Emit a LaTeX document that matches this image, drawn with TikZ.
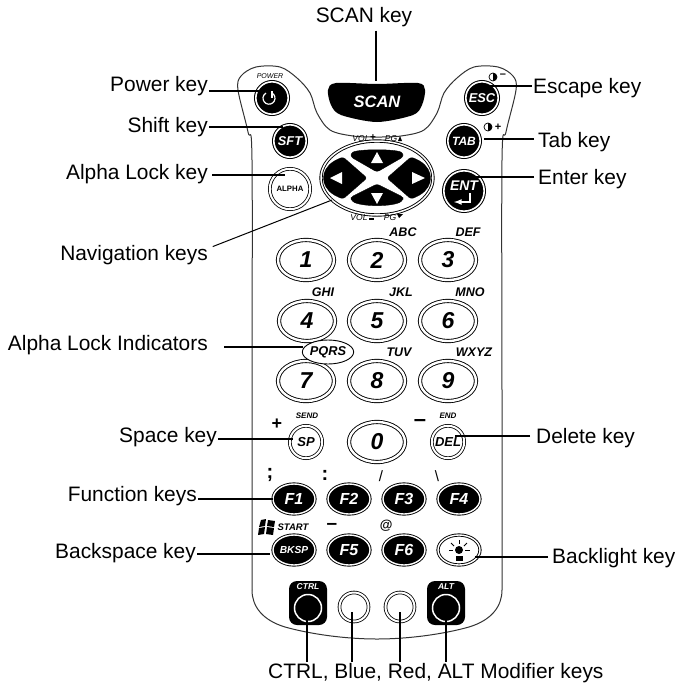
\documentclass[tikz,border=0pt]{standalone}
\usepackage{fontspec}
\setmainfont{Liberation Sans}
\usetikzlibrary{shapes.geometric}

\tikzset{
    lbl/.style={font=\fontsize{20.9}{22}\selectfont, inner sep=1pt},
    leader/.style={line width=1.4pt, black},
    caseline/.style={line width=1pt, black!80},
    keyface/.style={font=\fontsize{#1}{#1}\selectfont\bfseries\itshape, inner sep=0pt},
    tiny/.style={font=\fontsize{#1}{#1}\selectfont\itshape, inner sep=0pt},
    boldmark/.style={font=\fontsize{#1}{#1}\selectfont\bfseries, inner sep=0pt},
    blackround/.style={circle, draw=black, fill=black, double=white, double distance=1.6pt, line width=1pt,
        minimum size=32.4pt, inner sep=0pt, text=white},
    whiteround/.style={circle, draw=black, fill=white, double=white, double distance=2pt, line width=0.8pt,
        minimum size=32.4pt, inner sep=0pt},
    numkey/.style={ellipse, draw=black, fill=white, double=white, double distance=2.4pt, line width=0.9pt,
        minimum width=56pt, minimum height=40pt, inner sep=0pt, keyface=23},
    fkey/.style={ellipse, draw=black, fill=black, double=white, double distance=1.4pt, line width=0.9pt,
        minimum width=42pt, minimum height=30pt, inner sep=0pt, text=white},
    modbox/.style={rectangle, rounded corners=8pt, fill=black, minimum width=38pt, minimum height=44pt, inner sep=0pt},
    navkey/.style={fill=black, draw=black, line join=round, rounded corners=2.5pt},
}

\begin{document}
\begin{tikzpicture}[x=1pt, y=-1pt, >=latex]

    \useasboundingbox (0,0) rectangle (675,686);

    % 1. Case outline
    \draw[caseline] plot[smooth, tension=0.55] coordinates {
        (252,590) (252,400) (252,160) (248,132) (238,90) (241,76) (256,67) (280,67) (297,78) (310,93)
        (317,113) (330,130) (353,136) (377,137) (401,136) (424,130) (437,113) (444,93) (457,78) (474,67)
        (498,67) (513,76) (516,90) (506,132) (502,160) (502,400) (502,590)};
    \draw[caseline] (252,590) .. controls (252,606) and (262,620) .. (285,627)
        .. controls (310,634) and (345,639) .. (377,639)
        .. controls (409,639) and (444,634) .. (469,627)
        .. controls (492,620) and (502,606) .. (502,590);

    % 2. SCAN key
    \fill[black] plot[smooth cycle, tension=0.5] coordinates {
        (328,90) (336,83) (377,84) (418,83) (425,90) (422,105) (413,115) (377,122) (341,115) (331,105)};
    \node[keyface=16.5, text=white] (keyScan) at (377,102) {SCAN};

    % 3. Round keys of the top block
    \node[blackround] (keyPower) at (272,98) {};
    \node[blackround, keyface=12.8, text=white] (keyEsc) at (482,98) {ESC};
    \node[blackround, keyface=12.8, text=white] (keySft) at (290,141) {SFT};
    \node[blackround, keyface=12, text=white] (keyTab) at (464,141) {TAB};
    \node[whiteround, minimum size=40.4pt, font=\fontsize{7.8}{8}\selectfont\bfseries] (keyAlpha) at (290,189) {ALPHA};
    \node[blackround, minimum size=40.4pt] (keyEnt) at (464,191) {};
    \node[keyface=14, text=white] (txtEnt) at (464,186) {ENT};

    % Power symbol and Enter arrow
    \draw[white, line width=1.2pt] (272,93) arc (-60:240:6);
    \draw[white, line width=1.2pt] (272,91) -- (272,98);
    \draw[<-, white, line width=1.6pt] (454,202) -- (470,202) -- (470,193);

    \node[tiny=7] (txtPower) at (270,76) {POWER};

    % Contrast marks
    \draw[line width=0.7pt] (493,77) circle (4);
    \fill (493,73) arc (-90:90:4) -- cycle;
    \node[boldmark=11] (txtMinus) at (503,76) {--};
    \draw[line width=0.7pt] (488,127) circle (4);
    \fill (488,123) arc (-90:90:4) -- cycle;
    \node[boldmark=11] (txtPlus) at (498,127) {+};

    % 4. Navigation keys
    \node[ellipse, draw=black, fill=white, double=white, double distance=1.5pt, line width=0.9pt,
        minimum width=112pt, minimum height=74pt, inner sep=0pt] (keyNav) at (377,178) {};
    \draw[navkey] (351,153) .. controls (360,149) and (394,149) .. (403,153) -- (403,157) -- (377,172) -- (351,157) -- cycle;
    \draw[navkey] (351,197) -- (377,184) -- (403,197) -- (403,200) .. controls (394,207) and (360,207) .. (351,200) -- cycle;
    \draw[navkey] (343,157) -- (367,178) -- (343,199) -- (336,196) .. controls (320,186) and (320,170) .. (336,160) -- cycle;
    \draw[navkey] (411,157) -- (387,178) -- (411,199) -- (418,196) .. controls (434,186) and (434,170) .. (418,160) -- cycle;
    \fill[white] (377,152) -- (371,163) -- (383,163) -- cycle;
    \fill[white] (377,204) -- (371,193) -- (383,193) -- cycle;
    \fill[white] (330,178) -- (342,172) -- (342,184) -- cycle;
    \fill[white] (425,178) -- (412,172) -- (412,184) -- cycle;

    \node[tiny=8.5] (txtVolUp) at (361,139) {VOL};
    \node[boldmark=10] (txtVolPlus) at (373,138) {+};
    \node[tiny=8.5] (txtPgUp) at (391,139) {PG};
    \fill (400,136) -- (398,141) -- (402,141) -- cycle;
    \node[tiny=8.5] (txtVolDn) at (359,218) {VOL};
    \fill (369,218) rectangle (374,220);
    \node[tiny=8.5] (txtPgDn) at (390,218) {PG};
    \fill (399,218) -- (397,214) -- (403,214) -- cycle;

    % 5. Number keys
    \node[numkey] (key1) at (306,260) {1};
    \node[numkey] (key2) at (377,260) {2};
    \node[numkey] (key3) at (448,260) {3};
    \node[numkey] (key4) at (307,321) {4};
    \node[numkey] (key5) at (377,321) {5};
    \node[numkey] (key6) at (448,321) {6};
    \node[numkey] (key7) at (306,381) {7};
    \node[numkey] (key8) at (377,381) {8};
    \node[numkey] (key9) at (448,381) {9};
    \node[numkey] (key0) at (377,442) {0};

    \node[keyface=12.5] (txtAbc) at (403,232) {ABC};
    \node[keyface=12.5] (txtDef) at (468,232) {DEF};
    \node[keyface=12.5] (txtGhi) at (323,292) {GHI};
    \node[keyface=12.5] (txtJkl) at (401,292) {JKL};
    \node[keyface=12.5] (txtMno) at (470,292) {MNO};
    \node[ellipse, draw=black, line width=0.9pt, minimum width=49pt, minimum height=24pt, inner sep=0pt,
        keyface=12.8, fill=white] (txtPqrs) at (328,352) {PQRS};
    \node[keyface=12.5] (txtTuv) at (399,352) {TUV};
    \node[keyface=12.5] (txtWxyz) at (474,352) {WXYZ};

    % 6. Space and Delete keys
    \node[whiteround, keyface=13] (keySp) at (306,442) {SP};
    \node[whiteround, keyface=13] (keyDel) at (448,442) {DEL};
    \node[keyface=8] (txtSend) at (307,416) {SEND};
    \node[keyface=8] (txtEnd) at (448,416) {END};
    \node[boldmark=18] (txtSpPlus) at (277,424) {+};
    \node[boldmark=22] (txtDelMinus) at (420,423) {--};

    % 7. Function keys
    \node[fkey, keyface=16] (keyF1) at (294,499) {F1};
    \node[fkey, keyface=16] (keyF2) at (349,499) {F2};
    \node[fkey, keyface=16] (keyF3) at (404,499) {F3};
    \node[fkey, keyface=16] (keyF4) at (459,499) {F4};
    \node[fkey, keyface=10.2] (keyBksp) at (294,550) {BKSP};
    \node[fkey, keyface=16] (keyF5) at (349,550) {F5};
    \node[fkey, keyface=16] (keyF6) at (404,550) {F6};
    \node[fkey, fill=white, text=black] (keyLight) at (459,550) {};

    \node[boldmark=20] (txtSemi) at (270,475) {;};
    \node[boldmark=20] (txtColon) at (325,475) {:};
    \node[font=\fontsize{15}{15}\selectfont, inner sep=0pt] (txtSlash) at (381,476) {/};
    \node[font=\fontsize{15}{15}\selectfont, inner sep=0pt] (txtBack) at (437,476) {\textbackslash};
    \node[keyface=9.5] (txtStart) at (293,527) {START};
    \node[boldmark=19] (txtDash) at (332,526) {--};
    \node[keyface=13] (txtAt) at (386,526) {@};

    % Start logo
    \fill (261,520) -- (266,519) -- (265,526) -- (259,527) -- cycle;
    \fill (268,520) -- (275,521) -- (274,527) -- (267,526) -- cycle;
    \fill (259,528) -- (265,527) -- (264,534) -- (258,535) -- cycle;
    \fill (267,527) -- (274,528) -- (273,535) -- (266,534) -- cycle;

    % Backlight symbol
    \fill (459,550) circle (4);
    \fill (456,556) rectangle (463,561);
    \draw[line width=1pt] (449,550) -- (453,550);
    \draw[line width=1pt] (465,550) -- (470,550);
    \draw[line width=1pt] (451,543) -- (454,546);
    \draw[line width=1pt] (467,543) -- (464,546);
    \draw[line width=1pt] (459,540) -- (459,544);

    % 8. Modifier keys
    \node[modbox] (boxCtrl) at (308,603) {};
    \node[modbox] (boxAlt) at (446,603) {};
    \node[circle, draw=white, fill=black, line width=1.5pt, minimum size=27pt, inner sep=0pt] (keyCtrl) at (308,608) {};
    \node[circle, draw=white, fill=black, line width=1.5pt, minimum size=27pt, inner sep=0pt] (keyAlt) at (446,608) {};
    \node[keyface=8.5, text=white] (txtCtrl) at (308,587) {CTRL};
    \node[keyface=8.5, text=white] (txtAlt) at (446,587) {ALT};
    \node[whiteround, minimum size=29pt] (keyBlue) at (354,607) {};
    \node[whiteround, minimum size=29pt] (keyRed) at (400,607) {};

    % 9. Labels
    \node[lbl, anchor=base] (lblScan) at (364,22) {SCAN key};
    \node[lbl, anchor=base east] (lblPower) at (209,91) {Power key};
    \node[lbl, anchor=base east] (lblShift) at (209,132) {Shift key};
    \node[lbl, anchor=base east] (lblAlpha) at (209,179) {Alpha Lock key};
    \node[lbl, anchor=base east] (lblNav) at (209,260) {Navigation keys};
    \node[lbl, anchor=base east] (lblInd) at (209,350) {Alpha Lock Indicators};
    \node[lbl, anchor=base east] (lblSpace) at (218,442) {Space key};
    \node[lbl, anchor=base east] (lblFunc) at (198,501) {Function keys};
    \node[lbl, anchor=base east] (lblBksp) at (197,558) {Backspace key};
    \node[lbl, anchor=base west] (lblEsc) at (532,93) {Escape key};
    \node[lbl, anchor=base west] (lblTab) at (537,147) {Tab key};
    \node[lbl, anchor=base west] (lblEnt) at (537,184) {Enter key};
    \node[lbl, anchor=base west] (lblDel) at (535,443) {Delete key};
    \node[lbl, anchor=base west] (lblLight) at (551,563) {Backlight key};
    \node[lbl, anchor=base west] (lblMod) at (267,678) {CTRL, Blue, Red, ALT Modifier keys};

    % 10. Leader lines
    \coordinate (tipScan) at (376,81);
    \coordinate (tipPower) at (260,91);
    \coordinate (tipShift) at (283,127);
    \coordinate (tipAlpha) at (285,175);
    \coordinate (tipNav) at (332,200);
    \coordinate (tipInd) at (303,347);
    \coordinate (tipSpace) at (293,439);
    \coordinate (tipFunc) at (273,499);
    \coordinate (tipBksp) at (270,554);
    \coordinate (tipEsc) at (482,86);
    \coordinate (tipTab) at (484,139);
    \coordinate (tipEnt) at (460,177);
    \coordinate (tipDel) at (455,436);
    \coordinate (tipLight) at (475,557);
    \coordinate (tipCtrl) at (307,615);
    \coordinate (tipBlue) at (352,612);
    \coordinate (tipRed) at (400,612);
    \coordinate (tipAlt) at (446,615);

    \draw[leader, shorten <=3pt] (lblScan.south -| tipScan) -- (tipScan);
    \draw[leader] (lblPower.east |- tipPower) -- (tipPower);
    \draw[leader] (lblShift.east |- tipShift) -- (tipShift);
    \draw[leader, shorten <=3pt] (lblAlpha.east |- tipAlpha) -- (tipAlpha);
    \draw[leader, line width=1pt, shorten <=4pt] (lblNav.5) -- (tipNav);
    \draw[leader, shorten <=15pt] (lblInd.east |- tipInd) -- (tipInd);
    \draw[leader] (lblSpace.east |- tipSpace) -- (tipSpace);
    \draw[leader] (lblFunc.east |- tipFunc) -- (tipFunc);
    \draw[leader] (lblBksp.east |- tipBksp) -- (tipBksp);
    \draw[leader] (lblEsc.west |- tipEsc) -- (tipEsc);
    \draw[leader, shorten <=3pt] (lblTab.west |- tipTab) -- (tipTab);
    \draw[leader, shorten <=3pt] (lblEnt.west |- tipEnt) -- (tipEnt);
    \draw[leader, shorten <=5pt] (lblDel.west |- tipDel) -- (tipDel);
    \draw[leader, shorten <=3pt] (lblLight.west |- tipLight) -- (tipLight);
    \draw[leader] (tipCtrl) -- (tipCtrl |- lblMod.north);
    \draw[leader] (tipBlue) -- (tipBlue |- lblMod.north);
    \draw[leader] (tipRed) -- (tipRed |- lblMod.north);
    \draw[leader] (tipAlt) -- (tipAlt |- lblMod.north);

\end{tikzpicture}
\end{document}
